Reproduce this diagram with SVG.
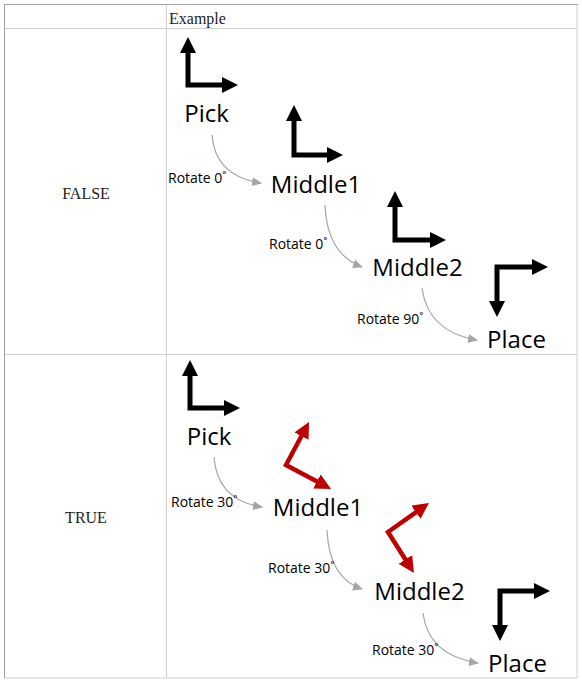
<svg xmlns="http://www.w3.org/2000/svg" width="582" height="682" viewBox="0 0 582 682">
<style>
.cell{font-family:"Liberation Serif","Times New Roman",serif;font-size:16px;fill:#222}
.lbl{font-family:"Open Sans","Noto Sans",sans-serif;font-size:24px;fill:#000;text-anchor:middle}
.rot{font-family:"Open Sans","Noto Sans",sans-serif;font-size:14px;fill:#000}
.blk{fill:none;stroke:#000;stroke-width:5;stroke-linejoin:miter;marker-start:url(#hb);marker-end:url(#hb)}
.red{fill:none;stroke:#c00000;stroke-width:4.5;stroke-linejoin:miter;marker-start:url(#hr);marker-end:url(#hr)}
.con{fill:none;stroke:#a6a6a6;stroke-width:1.2;marker-end:url(#hg)}
.grid{stroke:#d0d0d0;stroke-width:1}
</style>
<defs>
<marker id="hb" markerUnits="userSpaceOnUse" markerWidth="16" markerHeight="16" refX="6" refY="8" orient="auto-start-reverse"><path d="M0,0 L16,8 L0,16 z" fill="#000"/></marker>
<marker id="hr" markerUnits="userSpaceOnUse" markerWidth="16" markerHeight="16" refX="6" refY="8" orient="auto-start-reverse"><path d="M0,0 L16,8 L0,16 z" fill="#c00000"/></marker>
<marker id="hg" markerUnits="userSpaceOnUse" markerWidth="10" markerHeight="9" refX="9" refY="4.5" orient="auto"><path d="M0,0 L10,4.5 L0,9 z" fill="#a6a6a6"/></marker>
</defs>
<rect width="582" height="682" fill="#fff"/>
<g id="table">
<line class="grid" x1="4" y1="28.5" x2="577" y2="28.5"/>
<line class="grid" x1="4" y1="354.5" x2="577" y2="354.5"/>
<line class="grid" x1="166.5" y1="4" x2="166.5" y2="678"/>
<line class="grid" x1="577" y1="4" x2="577" y2="678"/>
<line class="grid" x1="4" y1="678" x2="577" y2="678"/>
<line x1="4" y1="4.5" x2="578" y2="4.5" stroke="#a0a0a0"/>
<line x1="4.5" y1="4" x2="4.5" y2="678" stroke="#a0a0a0"/>
<text class="cell" x="169" y="24">Example</text>
<text class="cell" x="86" y="199" text-anchor="middle">FALSE</text>
<text class="cell" x="86" y="523" text-anchor="middle">TRUE</text>
</g>
<g id="frames">
<polyline class="blk" points="188,47 188,85 228,85"/>
<polyline class="blk" points="294,115 294,155 333,155"/>
<polyline class="blk" points="395,201 395,240 436,240"/>
<polyline class="blk" points="497,307 497,267 538,267"/>
<polyline class="blk" points="190,370 190,408 230,408"/>
<polyline class="red" points="304.3,430.8 286,465 322.2,484.3"/>
<polyline class="red" points="420.8,508.8 388,532 408.6,564.5"/>
<polyline class="blk" points="500,631 500,591 540,591"/>
</g>
<g id="n-pick-f"><text class="lbl" x="206.5" y="121.5">Pick</text></g>
<g id="n-mid1-f"><text class="lbl" x="316" y="192.5">Middle1</text></g>
<g id="n-mid2-f"><text class="lbl" x="417.5" y="276">Middle2</text></g>
<g id="n-place-f"><text class="lbl" x="516.5" y="348">Place</text></g>
<g id="n-pick-t"><text class="lbl" x="209" y="445">Pick</text></g>
<g id="n-mid1-t"><text class="lbl" x="318" y="516">Middle1</text></g>
<g id="n-mid2-t"><text class="lbl" x="419.5" y="600">Middle2</text></g>
<g id="n-place-t"><text class="lbl" x="517.5" y="672">Place</text></g>
<g id="connectors">
<path class="con" d="M212,135 Q215,176 261,183"/>
<path class="con" d="M325,205 Q327,254 362,267"/>
<path class="con" d="M422,288 Q428,332 477,340"/>
<path class="con" d="M214,457 Q217,500 262,507"/>
<path class="con" d="M327,530 Q329,578 362,589"/>
<path class="con" d="M423,613 Q428,655 478,663"/>
<text class="rot" x="168" y="183">Rotate 0˚</text>
<text class="rot" x="269" y="249">Rotate 0˚</text>
<text class="rot" x="357" y="324">Rotate 90˚</text>
<text class="rot" x="171" y="507">Rotate 30˚</text>
<text class="rot" x="268" y="573">Rotate 30˚</text>
<text class="rot" x="372" y="655">Rotate 30˚</text>
</g>
</svg>
